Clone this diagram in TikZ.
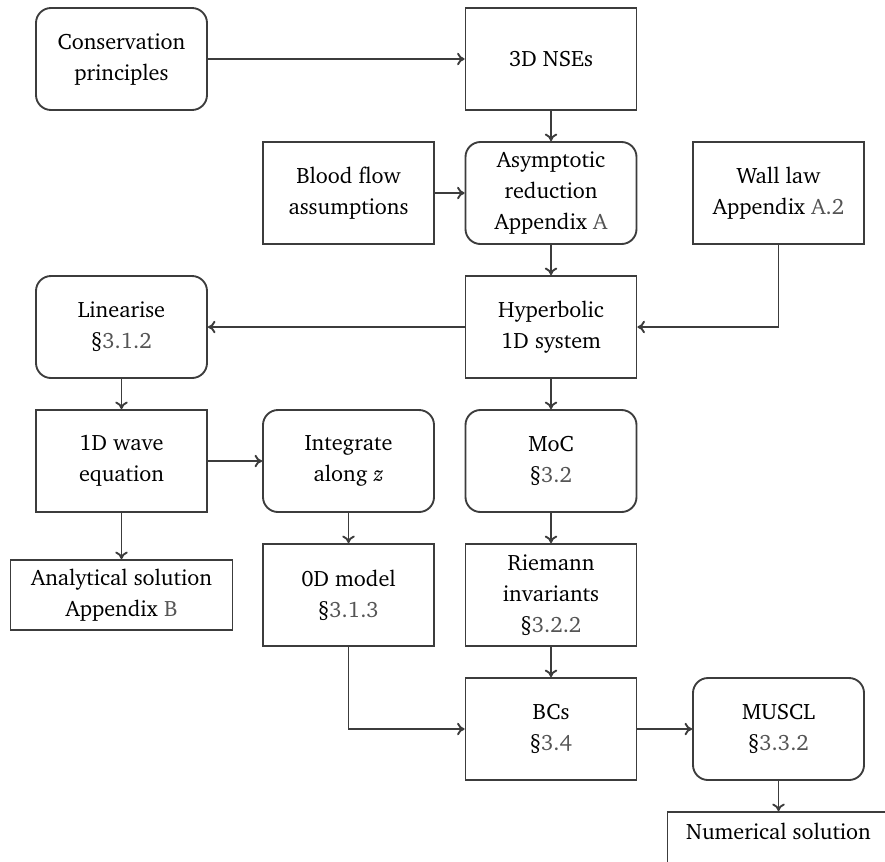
\documentclass[tikz,border=0pt]{standalone}
\usepackage[T1]{fontenc}
\usepackage{charter}
\usetikzlibrary{arrows.meta}
\definecolor{linec}{HTML}{3C3C3C}
\definecolor{refc}{HTML}{555555}
\newcommand{\rf}[1]{\textcolor{refc}{#1}}
\begin{document}
\begin{tikzpicture}[x=0.4pt,y=-0.4pt,
  box/.style={draw=linec, line width=0.75pt, minimum width=68.4pt, minimum height=40.8pt,
    align=center, inner sep=0pt, font=\fontsize{8.9}{12.4}\selectfont, text=black},
  rbox/.style={box, rounded corners=6pt},
  wbox/.style={box, minimum width=88.8pt, minimum height=28pt},
  conn/.style={draw=linec, line width=0.75pt, -{To[length=3pt,width=5pt]}}]
\clip (0,0) rectangle (885,861);
\useasboundingbox (0,0) rectangle (885,861);
% row 1
\node[rbox] (cons) at (121.5,59) {Conservation\\principles};
\node[box]  (nse)  at (551,59) {3D NSEs};
% row 2
\node[box]  (blood) at (348.5,193) {Blood flow\\assumptions};
\node[rbox] (asym)  at (551,193) {Asymptotic\\reduction\\Appendix \rf{A}};
\node[box]  (wall)  at (778.5,193) {Wall law\\Appendix \rf{A.2}};
% row 3
\node[rbox] (lin) at (121.5,327) {Linearise\\\S\rf{3.1.2}};
\node[box]  (hyp) at (551,327) {Hyperbolic\\1D system};
% row 4
\node[box]  (wave)  at (121.5,461) {1D wave\\equation};
\node[rbox] (integ) at (348.5,461) {Integrate\\along \textit{z}};
\node[rbox] (moc)   at (551,461) {MoC\\\S\rf{3.2}};
% row 5
\node[wbox] (ana)  at (121.5,595) {Analytical solution\\Appendix \rf{B}};
\node[box]  (od)   at (348.5,595) {0D model\\\S\rf{3.1.3}};
\node[box]  (riem) at (551,595) {Riemann\\invariants\\\S\rf{3.2.2}};
% row 6
\node[box]  (bcs)   at (551,729) {BCs\\\S\rf{3.4}};
\node[rbox] (muscl) at (778.5,729) {MUSCL\\\S\rf{3.3.2}};
% row 7
\node[wbox] (num) at (778.5,847) {Numerical solution\\\phantom{A}};
% connectors
\draw[conn] (cons) -- (nse);
\draw[conn] (nse) -- (asym);
\draw[conn] (blood) -- (asym);
\draw[conn] (asym) -- (hyp);
\draw[conn] (wall.south) |- (hyp.east);
\draw[conn] (hyp) -- (lin);
\draw[conn] (hyp) -- (moc);
\draw[conn] (lin) -- (wave);
\draw[conn] (wave) -- (integ);
\draw[conn] (wave) -- (ana);
\draw[conn] (integ) -- (od);
\draw[conn] (moc) -- (riem);
\draw[conn] (riem) -- (bcs);
\draw[conn] (od.south) |- (bcs.west);
\draw[conn] (bcs) -- (muscl);
\draw[conn] (muscl) -- (num);
\end{tikzpicture}
\end{document}
